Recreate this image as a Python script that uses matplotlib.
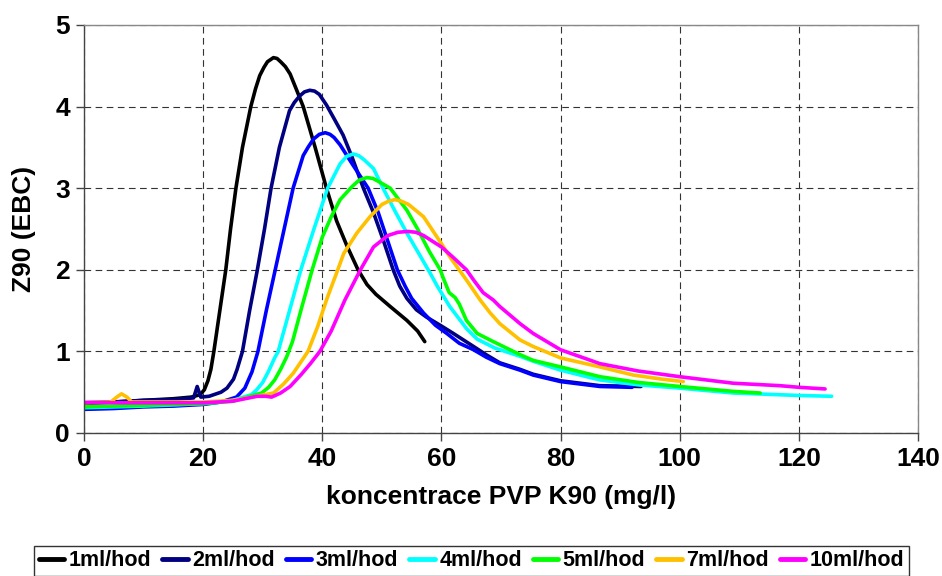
import matplotlib
matplotlib.use("Agg")
import matplotlib.pyplot as plt

plt.rcParams["font.family"] = ["Liberation Sans", "DejaVu Sans"]
plt.rcParams["font.weight"] = "bold"

# data: koncentrace PVP K90 (mg/l) vs Z90 (EBC)
x_1ml = [0, 5, 10, 15, 18, 19.5, 20.2, 20.8, 21.3, 21.8, 22.8, 23.8, 24.6, 25.5, 26.6, 28, 28.8,
         29.5, 30.2, 30.8, 31.8, 32.4, 33, 33.8, 34.6, 35.6, 36.8, 38.8, 40.7, 42.4, 44.1, 46,
         47.5, 49, 51.4, 54.2, 56, 57.2]
y_1ml = [0.37, 0.38, 0.40, 0.42, 0.44, 0.47, 0.53, 0.64, 0.78, 1.0, 1.5, 2.0, 2.5, 3.0, 3.5, 4.0,
         4.22, 4.38, 4.48, 4.55, 4.6, 4.59, 4.55, 4.49, 4.4, 4.22, 4.0, 3.5, 3.0, 2.6, 2.3, 2.0,
         1.82, 1.7, 1.55, 1.38, 1.25, 1.12]

x_2ml = [0, 5, 10, 15, 18.4, 19, 19.6, 21, 23, 24, 25.1, 25.7, 26.6, 27.8, 29.1, 30.3, 31.4,
         32.8, 34.5, 35.3, 36.2, 37, 37.9, 38.7, 39.5, 40.7, 42, 43.5, 45, 46.9, 48.6, 50.3,
         51.9, 53, 54.2, 55.8, 57.5, 59.8, 62, 65.4, 67.5, 69.8, 73.2, 75.4, 80, 86.6, 93.5]
y_2ml = [0.36, 0.38, 0.40, 0.41, 0.43, 0.57, 0.44, 0.45, 0.50, 0.55, 0.66, 0.78, 1.0, 1.5, 2.0,
         2.5, 3.0, 3.5, 3.95, 4.05, 4.13, 4.18, 4.2, 4.19, 4.15, 4.02, 3.85, 3.65, 3.38, 3.0,
         2.7, 2.35, 2.0, 1.8, 1.65, 1.51, 1.42, 1.32, 1.22, 1.06, 0.96, 0.86, 0.78, 0.72, 0.64,
         0.58, 0.57]

x_3ml = [0, 5, 10, 15, 20, 23, 25.6, 27, 28.2, 29.2, 30.6, 32.1, 33.6, 35.1, 36.8, 37.6, 38.5,
         39.5, 40.5, 41.3, 42, 43, 45, 47.7, 49.4, 51, 52.6, 53.9, 55, 57, 59, 60.9, 63, 65.4,
         67.5, 69.8, 73.2, 75.4, 80, 86.6, 92]
y_3ml = [0.29, 0.30, 0.32, 0.33, 0.35, 0.38, 0.44, 0.55, 0.75, 1.0, 1.5, 2.0, 2.5, 3.0, 3.4,
         3.5, 3.6, 3.66, 3.68, 3.66, 3.62, 3.53, 3.3, 3.0, 2.7, 2.35, 2.0, 1.8, 1.65, 1.47, 1.32,
         1.22, 1.1, 1.02, 0.93, 0.85, 0.77, 0.71, 0.63, 0.57, 0.56]

x_4ml = [0, 10, 20, 25, 28.1, 29, 30, 31, 32, 32.6, 34.5, 36.4, 38.6, 40.9, 43, 44.1, 45.2, 46.1,
         47, 48.6, 50.2, 52.2, 54.2, 56.2, 58.1, 59.3, 61.4, 64.2, 66, 69, 73.2, 75.4, 80, 86.6,
         93, 100, 109, 120, 125.5]
y_4ml = [0.31, 0.33, 0.36, 0.40, 0.47, 0.53, 0.62, 0.76, 0.92, 1.0, 1.5, 2.0, 2.5, 3.0, 3.3,
         3.39, 3.42, 3.4, 3.35, 3.24, 3.0, 2.72, 2.45, 2.2, 1.96, 1.8, 1.55, 1.28, 1.15, 1.04,
         0.94, 0.88, 0.77, 0.65, 0.59, 0.55, 0.49, 0.46, 0.45]

x_5ml = [0, 10, 20, 25, 29.8, 31, 32, 33, 34, 35, 36.4, 38.3, 40, 41.5, 43, 45, 46.2, 47.5,
         48.5, 49.5, 51.4, 54.2, 56, 58, 59.8, 60.3, 61.3, 62.3, 63, 64.2, 66, 68.7, 73.2, 75.4,
         80, 86.6, 93, 100, 109, 113.5]
y_5ml = [0.32, 0.34, 0.36, 0.39, 0.49, 0.56, 0.65, 0.78, 0.93, 1.12, 1.5, 2.0, 2.4, 2.65, 2.86,
         3.02, 3.1, 3.13, 3.12, 3.08, 3.0, 2.73, 2.5, 2.22, 2.0, 1.9, 1.72, 1.66, 1.58, 1.38,
         1.22, 1.12, 0.96, 0.89, 0.81, 0.69, 0.62, 0.57, 0.51, 0.49]

x_7ml = [0, 4.5, 5.5, 6.3, 7.2, 8, 15, 20, 25, 29, 31.8, 33.5, 35.1, 36.4, 37.6, 39.2, 40.8,
         42.6, 43.6, 45.8, 48, 50, 51.1, 52.2, 53.3, 54.5, 57, 60, 61.4, 64.2, 66.5, 68.2, 69.8,
         73.2, 75.4, 80, 86.6, 92.2, 97, 100.6]
y_7ml = [0.37, 0.38, 0.44, 0.48, 0.44, 0.38, 0.38, 0.38, 0.40, 0.45, 0.49, 0.60, 0.73, 0.87,
         1.0, 1.3, 1.65, 2.0, 2.2, 2.45, 2.65, 2.8, 2.84, 2.86, 2.84, 2.8, 2.65, 2.32, 2.16,
         1.875, 1.63, 1.47, 1.34, 1.14, 1.06, 0.92, 0.81, 0.71, 0.66, 0.63]

x_10ml = [0, 5, 10, 15, 20, 25, 27, 29, 30.5, 31.5, 33, 34.6, 36.5, 38, 39.6, 41.5, 43.8, 46.4,
          48.6, 51, 52.7, 54.4, 55.7, 57, 60, 62, 64.2, 65.4, 67, 68.7, 69.8, 73.2, 75.4, 80,
          86.6, 93, 100, 109, 116.8, 120, 124.4]
y_10ml = [0.375, 0.37, 0.37, 0.37, 0.37, 0.39, 0.42, 0.45, 0.45, 0.44, 0.49, 0.57, 0.72, 0.85,
          1.0, 1.25, 1.63, 2.0, 2.28, 2.42, 2.46, 2.47, 2.46, 2.42, 2.28, 2.15, 2.0, 1.875,
          1.72, 1.63, 1.55, 1.34, 1.22, 1.02, 0.85, 0.76, 0.69, 0.61, 0.58, 0.56, 0.54]

series = [
    ("1ml/hod", x_1ml, y_1ml, "#000000"),
    ("2ml/hod", x_2ml, y_2ml, "#000080"),
    ("3ml/hod", x_3ml, y_3ml, "#0000FF"),
    ("4ml/hod", x_4ml, y_4ml, "#00FFFF"),
    ("5ml/hod", x_5ml, y_5ml, "#00FF00"),
    ("7ml/hod", x_7ml, y_7ml, "#FFC000"),
    ("10ml/hod", x_10ml, y_10ml, "#FF00FF"),
]

fig = plt.figure(figsize=(9.42, 5.76), dpi=100)
ax = fig.add_axes([84 / 942, 1 - 433 / 576, (918 - 84) / 942, (433 - 25) / 576])

for label, xs, ys, col in series:
    ax.plot(xs, ys, color=col, lw=2.6, label=label, solid_joinstyle="round",
            solid_capstyle="round")

ax.set_xlim(0, 140)
ax.set_ylim(0, 5)
ax.set_xticks(range(0, 141, 20))
ax.set_yticks(range(0, 6))
ax.grid(True, color="#333333", linestyle=(0, (6, 4)), lw=0.8)
ax.set_axisbelow(True)

for side in ["left", "bottom"]:
    ax.spines[side].set_color("#444444")
    ax.spines[side].set_linewidth(1.0)
for side in ["top", "right"]:
    ax.spines[side].set_color("#888888")
    ax.spines[side].set_linewidth(1.0)

ax.tick_params(direction="out", length=6, width=1, color="#444444", labelsize=19, pad=4)
ax.set_xlabel("koncentrace PVP K90 (mg/l)", fontsize=19, fontweight="bold", labelpad=10)
ax.set_ylabel("Z90 (EBC)", fontsize=19, fontweight="bold", labelpad=14)

leg = fig.legend(loc="upper center", bbox_to_anchor=(471.5 / 942, 1 - 546 / 576), ncol=7,
                 fontsize=15.5, frameon=True, fancybox=False, edgecolor="black",
                 handlelength=1.2, handletextpad=0.2, columnspacing=0.5, borderpad=0.2,
                 borderaxespad=0)
leg.get_frame().set_linewidth(1.0)
for line in leg.get_lines():
    line.set_linewidth(3.5)

fig.savefig("out.png", dpi=100)
